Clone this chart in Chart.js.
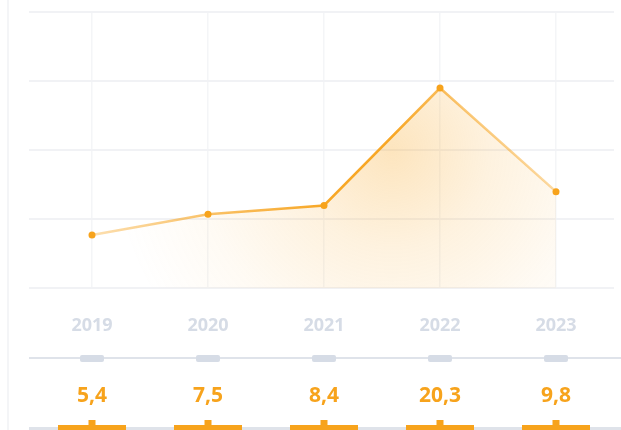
<!DOCTYPE html>
<html>
<head>
<meta charset="utf-8">
<script src="https://cdn.jsdelivr.net/npm/chart.js@4.4.1/dist/chart.umd.min.js"></script>
<style>
  html, body { margin: 0; padding: 0; background: #fff; }
  #wrap { width: 621px; height: 430px; position: relative; }
</style>
</head>
<body>
<div id="wrap"><canvas id="growthChart"></canvas></div>
<script>
// chart data
const years = ['2019', '2020', '2021', '2022', '2023'];
const values = [5.4, 7.5, 8.4, 20.3, 9.8];
const yTicks = [0, 7, 14, 21, 28];

const orange = '#f7a31c';
const railGray = '#dfe3ea';
const tabGray = '#d6dce6';

// "20.3" -> "20,3"
function formatValue(v) {
    return v.toFixed(1).replace('.', ',');
}

// soft orange glow under the line
function fillGradient(chart) {
    const area = chart.chartArea;
    if (!area) return 'rgba(247,163,28,0.2)';
    const x = chart.scales.x;
    const cx = (x.getPixelForValue(2) + x.getPixelForValue(3)) / 2 + 10;
    const cy = area.top + (area.bottom - area.top) * 0.5;
    const g = chart.ctx.createRadialGradient(cx, cy, 0, cx, cy, 280);
    g.addColorStop(0, 'rgba(248,168,40,0.30)');
    g.addColorStop(0.35, 'rgba(248,168,40,0.15)');
    g.addColorStop(0.7, 'rgba(248,168,40,0.05)');
    g.addColorStop(1, 'rgba(248,168,40,0)');
    return g;
}

// line fades out at both ends
function lineGradient(chart) {
    const area = chart.chartArea;
    if (!area) return orange;
    const x = chart.scales.x;
    const g = chart.ctx.createLinearGradient(x.getPixelForValue(0), 0, x.getPixelForValue(4), 0);
    g.addColorStop(0, 'rgba(247,163,28,0.35)');
    g.addColorStop(0.25, 'rgba(247,163,28,0.65)');
    g.addColorStop(0.5, 'rgba(247,163,28,0.95)');
    g.addColorStop(0.65, 'rgba(247,163,28,0.95)');
    g.addColorStop(0.8, 'rgba(247,163,28,0.6)');
    g.addColorStop(1, 'rgba(247,163,28,0.4)');
    return g;
}

// rails, tabs, value labels under the axis
const bottomStrip = {
    id: 'bottomStrip',
    beforeDraw(chart) {
        const c = chart.ctx;
        c.save();
        c.fillStyle = '#f4f5f7';
        c.fillRect(7, 0, 2, chart.height);
        c.restore();
    },
    afterDraw(chart) {
        const c = chart.ctx;
        const x = chart.scales.x;
        const left = 29;
        const right = chart.width;
        c.save();

        // upper gray rail with tabs
        c.fillStyle = railGray;
        c.fillRect(left, 357, right - left, 2);
        years.forEach((yr, i) => {
            const px = x.getPixelForValue(i);
            c.fillStyle = tabGray;
            c.beginPath();
            c.roundRect(px - 12, 355, 24, 7, 2);
            c.fill();
        });

        // value labels
        c.font = 'bold 21px "Open Sans"';
        c.fillStyle = orange;
        c.textAlign = 'center';
        c.textBaseline = 'middle';
        values.forEach((v, i) => {
            c.fillText(formatValue(v), x.getPixelForValue(i), 396);
        });

        // lower rail with orange markers
        c.fillStyle = railGray;
        c.fillRect(left, 427, right - left, 3);
        years.forEach((yr, i) => {
            const px = x.getPixelForValue(i);
            c.fillStyle = orange;
            c.fillRect(px - 34, 425, 68, 5);
            c.fillRect(px - 3.5, 420, 7, 6);
        });
        c.restore();
    }
};

const ctx = document.getElementById('growthChart').getContext('2d');

new Chart(ctx, {
    type: 'line',
    data: {
        labels: years,
        datasets: [{
            data: values,
            borderWidth: 2.5,
            borderColor: c => lineGradient(c.chart),
            backgroundColor: c => fillGradient(c.chart),
            fill: 'origin',
            tension: 0,
            pointRadius: 3.5,
            pointHoverRadius: 3.5,
            pointBackgroundColor: orange,
            pointBorderWidth: 0,
        }],
    },
    options: {
        responsive: true,
        maintainAspectRatio: false,
        animation: false,
        layout: {
            padding: { left: 29, right: 7, top: 12, bottom: 66 },
        },
        plugins: {
            legend: { display: false },
            tooltip: { enabled: false },
        },
        scales: {
            x: {
                offset: true,
                border: { display: false },
                grid: {
                    offset: false,
                    color: '#f4f5f7',
                    lineWidth: 1.5,
                    drawTicks: false,
                },
                ticks: {
                    padding: 27,
                    color: '#d6dce6',
                    font: { family: '"Open Sans"', size: 18, weight: 'bold' },
                },
            },
            y: {
                min: yTicks[0],
                max: yTicks[yTicks.length - 1],
                border: { display: false },
                grid: {
                    color: '#f1f2f5',
                    lineWidth: 2,
                    drawTicks: true,
                    tickLength: 5,
                },
                ticks: {
                    display: false,
                    stepSize: yTicks[1] - yTicks[0],
                },
            },
        },
    },
    plugins: [bottomStrip],
});
</script>
</body>
</html>
